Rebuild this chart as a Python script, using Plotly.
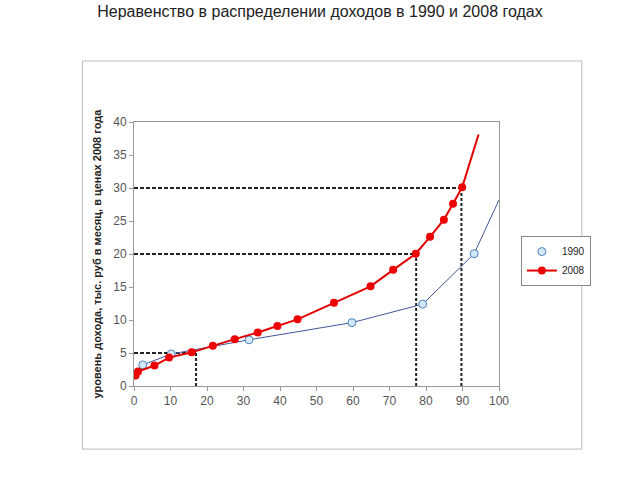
import plotly.graph_objects as go

# Data
x1990 = [2.4, 10.2, 31.5, 59.7, 79.1, 93.2, 100.0]
y1990 = [3.2, 4.85, 7.0, 9.6, 12.4, 20.05, 28.2]
x2008 = [0.45, 1.1, 5.6, 9.6, 15.8, 21.6, 27.6, 33.9, 39.3, 44.8, 54.8, 64.8, 71.0, 77.2, 81.1, 84.9, 87.4, 89.9, 94.4]
y2008 = [1.6, 2.2, 3.1, 4.3, 5.1, 6.1, 7.1, 8.1, 9.1, 10.1, 12.6, 15.1, 17.6, 20.05, 22.6, 25.2, 27.6, 30.1, 38.1]
levels = [5, 20, 30]
shares = [17.0, 77.3, 89.7]
xticks = [0, 10, 20, 30, 40, 50, 60, 70, 80, 90, 100]
yticks = [0, 5, 10, 15, 20, 25, 30, 35, 40]

title = "Неравенство в распределении доходов в 1990 и 2008 годах"
ytitle = "уровень дохода, тыс. руб в месяц, в ценах 2008 года"

fig = go.Figure()

# reference dashed lines
for lv, sh in zip(levels, shares):
    fig.add_trace(go.Scatter(x=[0, sh], y=[lv, lv], mode="lines",
                             line=dict(color="#222222", width=2, dash="4px,2px"),
                             showlegend=False, hoverinfo="skip"))
    fig.add_trace(go.Scatter(x=[sh, sh], y=[0, lv], mode="lines",
                             line=dict(color="#222222", width=2, dash="3px,2px"),
                             showlegend=False, hoverinfo="skip"))

# 1990 line (no legend)
fig.add_trace(go.Scatter(x=x1990, y=y1990, mode="lines",
                         line=dict(color="#46549a", width=1),
                         showlegend=False, hoverinfo="skip"))
# 1990 markers (last point is line end only)
fig.add_trace(go.Scatter(x=x1990[:-1], y=y1990[:-1], mode="markers", name="1990",
                         marker=dict(size=8, color="#d2e8f8",
                                     line=dict(color="#4f81bd", width=1))))

# 2008 tail segment
fig.add_trace(go.Scatter(x=x2008[-2:], y=y2008[-2:], mode="lines",
                         line=dict(color="#e00000", width=2),
                         showlegend=False, hoverinfo="skip"))
fig.add_trace(go.Scatter(x=x2008[:-1], y=y2008[:-1], mode="lines+markers", name="2008",
                         line=dict(color="#e00000", width=2),
                         marker=dict(size=8, color="#ee0000")))

axis_common = dict(showline=True, linecolor="#999999", linewidth=1, mirror=True,
                   ticks="outside", ticklen=4, tickcolor="#999999",
                   showgrid=False, zeroline=False,
                   tickfont=dict(family="Liberation Sans, Arial", size=12, color="#555555"))

fig.update_xaxes(range=[0, 100], tickvals=xticks, **axis_common)
fig.update_yaxes(range=[0, 40], tickvals=yticks,
                 title=dict(text="<b>" + ytitle + "</b>", standoff=9,
                            font=dict(family="Liberation Sans Narrow, Arial Narrow, Liberation Sans", size=11, color="#222222")),
                 **axis_common)

# outer chart frame
fig.add_shape(type="rect", xref="paper", yref="paper",
              x0=-0.141, x1=1.227, y0=-0.239, y1=1.231,
              line=dict(color="#bbbbbb", width=1), layer="below")

fig.update_layout(
    width=640, height=480,
    margin=dict(l=133.5, r=141, t=122, b=94),
    paper_bgcolor="white", plot_bgcolor="white",
    title=dict(text=title, x=0.5, xanchor="center", y=0.977, yanchor="middle",
               font=dict(family="Liberation Sans, Arial", size=16, color="#222222")),
    legend=dict(x=1.06, y=0.568, xanchor="left", yanchor="top",
                bordercolor="#888888", borderwidth=1, bgcolor="white",
                font=dict(family="Liberation Sans, Arial", size=10, color="#222222"),
                itemwidth=30, tracegroupgap=0),
    showlegend=True,
)

fig.write_html("out.html")
